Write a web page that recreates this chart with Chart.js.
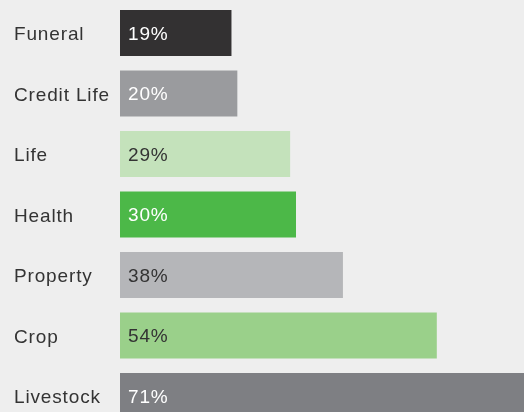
<!DOCTYPE html>
<html>
<head>
<meta charset="utf-8">
<script src="https://cdn.jsdelivr.net/npm/chart.js@4"></script>
<style>
  html, body { margin: 0; padding: 0; background: #eeeeee; }
  #wrap { width: 524px; height: 412px; overflow: hidden; position: relative; }
  canvas { display: block; }
</style>
</head>
<body>
<div id="wrap"><canvas id="chart" width="560" height="430"></canvas></div>
<script>
// Data
const categories = ['Funeral', 'Credit Life', 'Life', 'Health', 'Property', 'Crop', 'Livestock'];
const shares = [19, 20, 29, 30, 38, 54, 71];
const barColors = ['#333132', '#9a9b9e', '#c4e2bb', '#4cb848', '#b5b6b9', '#9ad08a', '#7e7f83'];
const labelColors = ['#ffffff', '#ffffff', '#333333', '#ffffff', '#333333', '#333333', '#ffffff'];

const FONT = '"Liberation Sans", Arial, sans-serif';
const FONT_SIZE = 19;
const TRACKING = '0.85px';

// Slightly wider letter spacing, like the original typeface
const tracking = {
    id: 'tracking',
    beforeDraw(chart) { chart.ctx.letterSpacing = TRACKING; }
};

// Draw the value inside each bar, near its base
const valueLabels = {
    id: 'valueLabels',
    afterDatasetsDraw(chart) {
        const ctx = chart.ctx;
        const meta = chart.getDatasetMeta(0);
        ctx.save();
        ctx.letterSpacing = TRACKING;
        ctx.font = FONT_SIZE + 'px ' + FONT;
        ctx.textBaseline = 'middle';
        ctx.textAlign = 'left';
        meta.data.forEach((bar, i) => {
            ctx.fillStyle = labelColors[i];
            ctx.fillText(shares[i] + '%', bar.base + 8, bar.y + 1.5);
        });
        ctx.restore();
    }
};

new Chart(document.getElementById('chart').getContext('2d'), {
    type: 'bar',
    data: {
        labels: categories,
        datasets: [{
            data: shares,
            backgroundColor: barColors,
            borderWidth: 0,
            barPercentage: 0.76,
            categoryPercentage: 1
        }]
    },
    options: {
        indexAxis: 'y',
        responsive: false,
        animation: false,
        layout: { padding: { left: 14, top: 2.75, bottom: 3.75, right: 0 } },
        plugins: {
            legend: { display: false },
            tooltip: { enabled: false }
        },
        scales: {
            x: {
                display: false,
                min: 0,
                max: 75
            },
            y: {
                grid: { display: false },
                border: { display: false },
                afterFit(scale) {
                    scale.width = 106;
                    scale.paddingTop = 0;
                    scale.paddingBottom = 0;
                },
                ticks: {
                    crossAlign: 'far',
                    color: '#333333',
                    font: { family: FONT, size: FONT_SIZE },
                    padding: 0,
                    labelOffset: 2
                }
            }
        }
    },
    plugins: [tracking, valueLabels]
});
</script>
</body>
</html>
